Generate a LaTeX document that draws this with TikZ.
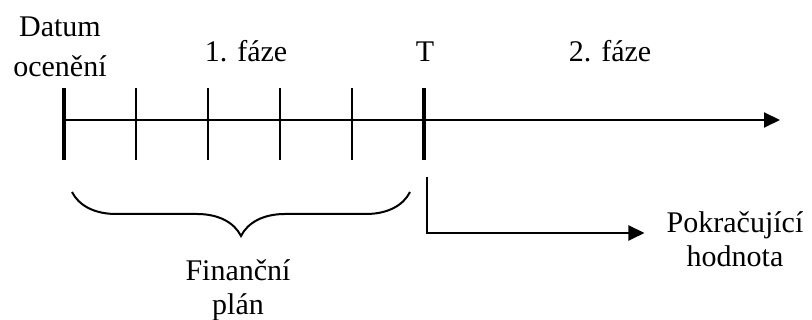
\documentclass[tikz,border=0pt]{standalone}
\usepackage{fontspec}
\setmainfont{Liberation Serif}
\usetikzlibrary{arrows.meta,decorations.pathreplacing}
\newcommand{\labelfont}{\fontsize{30}{34}\selectfont}
\newcommand{\tickmark}[3]{%
  \coordinate (#1) at (#2,200);
  \draw[line width=#3] (#2,160) -- (#2,232);
}
\tikzset{
  axisline/.style={line width=2pt,-{Triangle[length=16pt,width=15pt]}},
  label/.style={font=\labelfont,align=center,inner sep=0pt},
}

\begin{document}
\begin{tikzpicture}[x=1pt,y=1pt]
  \useasboundingbox (0,0) rectangle (812,320);

  % Time axis.
  \coordinate (axisend) at (780,200);
  \tickmark{t0}{64}{4.5pt}
  \tickmark{t1}{136}{2pt}
  \tickmark{t2}{208}{2pt}
  \tickmark{t3}{280}{2pt}
  \tickmark{t4}{352}{2pt}
  \tickmark{tT}{424}{4.5pt}
  \draw[axisline] (t0) -- (axisend);

  \node[label] (datum) at (60,273) {Datum\\[6pt]ocenění};
  \node[label,anchor=base] (faze1) at (246,258) {1. fáze};
  \node[label,anchor=base] (tlabel) at (425,258) {T};
  \node[label,anchor=base] (faze2) at (610,258) {2. fáze};

  % Financial plan brace.
  \coordinate (b0) at (72,128);
  \coordinate (b1) at (410,128);
  \draw[line width=2pt,decorate,decoration={brace,mirror,amplitude=44pt}]
    (b0) -- (b1);
  \node[label] (plan) at (238,30) {Finanční\\plán};

  % Continuing value.
  \coordinate (tstart) at (427,143);
  \node[label] (pokr) at (735,81) {Pokračující\\hodnota};
  \draw[axisline] (tstart) |- ([xshift=-22pt,yshift=6pt]pokr.west);
\end{tikzpicture}
\end{document}
